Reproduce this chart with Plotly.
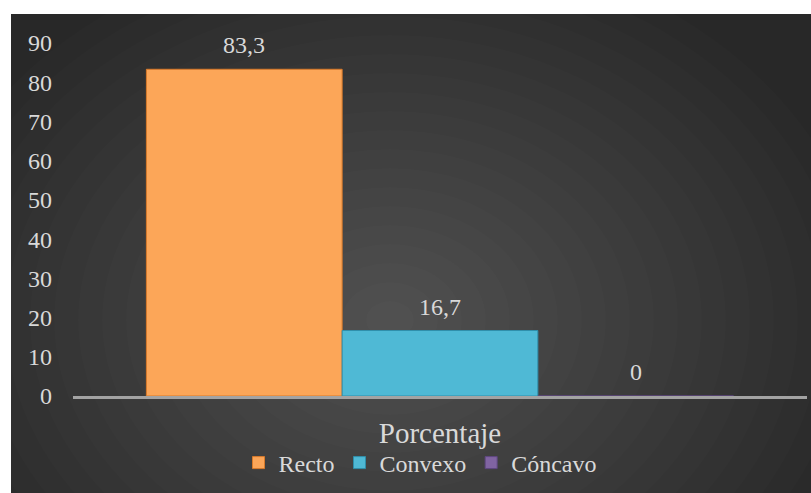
import plotly.graph_objects as go

# Data
category = ["Porcentaje"]
series_names = ["Recto", "Convexo", "Cóncavo"]
series_values = [83.3, 16.7, 0]
series_colors = ["#fca658", "#4fb9d5", "#8064a2"]
edge_colors = ["#d97a2a", "#2f8fab", "#5e4680"]
y_ticks = [0, 10, 20, 30, 40, 50, 60, 70, 80, 90]

W, H = 811, 493
L, R, T, B = 73, 4, 43, 97
PW, PH = W - L - R, H - T - B
BARGAP = 0.2

FONT = "Liberation Serif"
TXT = "#d9d9d9"


def px_x(x):
    return (x - L) / PW


def px_y(y):
    return (H - B - y) / PH


fig = go.Figure()
for name, val, col, edge in zip(series_names, series_values, series_colors, edge_colors):
    fig.add_trace(go.Bar(
        name=name,
        x=category,
        y=[val],
        marker=dict(color=col, line=dict(color=edge, width=1)),
        cliponaxis=False,
    ))

# Value labels above each bar of the group
n_series = len(series_values)
group_w = 1 - BARGAP
bar_w = group_w / n_series
annotations = []
for i, val in enumerate(series_values):
    offset = -group_w / 2 + (i + 0.5) * bar_w
    annotations.append(dict(
        x=offset, y=val, xref="x", yref="y",
        text=f"{val:g}".replace(".", ","),
        showarrow=False, yanchor="middle", yshift=24,
        font=dict(family=FONT, size=24, color=TXT),
    ))

# Dark panel with a soft radial highlight
shapes = [dict(type="rect", xref="paper", yref="paper", layer="below",
               x0=px_x(11), x1=px_x(W + 5), y0=px_y(H + 5), y1=px_y(14),
               fillcolor="#282828", line=dict(width=0))]
cx, cy = 390, 320
n = 20
for i in range(n):
    f = 1 - i / n
    rx, ry = 480 * f, 380 * f
    shapes.append(dict(type="circle", xref="paper", yref="paper", layer="below",
                       x0=px_x(cx - rx), x1=px_x(cx + rx),
                       y0=px_y(cy + ry), y1=px_y(cy - ry),
                       fillcolor="rgba(255,255,255,0.0126)", line=dict(width=0)))

fig.update_layout(
    width=W, height=H,
    margin=dict(l=L, r=R, t=T, b=B, pad=0),
    paper_bgcolor="white",
    plot_bgcolor="rgba(0,0,0,0)",
    barmode="group",
    bargap=BARGAP,
    bargroupgap=0,
    shapes=shapes,
    annotations=annotations,
    showlegend=True,
    legend=dict(orientation="h", x=px_x(420), xanchor="center", y=px_y(463), yanchor="middle",
                font=dict(family=FONT, size=24, color=TXT),
                bgcolor="rgba(0,0,0,0)", itemwidth=30, tracegroupgap=0),
    xaxis=dict(showgrid=False, zeroline=False, showline=True, linecolor="#a3a3a3", linewidth=3,
               tickfont=dict(family=FONT, size=29, color=TXT), ticks="",
               ticklabelstandoff=9, fixedrange=True),
    yaxis=dict(range=[0, 90], tickvals=y_ticks, showgrid=False, zeroline=False, showline=False,
               tickfont=dict(family=FONT, size=24, color=TXT), ticks="",
               ticklabelstandoff=20, fixedrange=True),
)

fig.write_html("out.html", config={"displayModeBar": False})
